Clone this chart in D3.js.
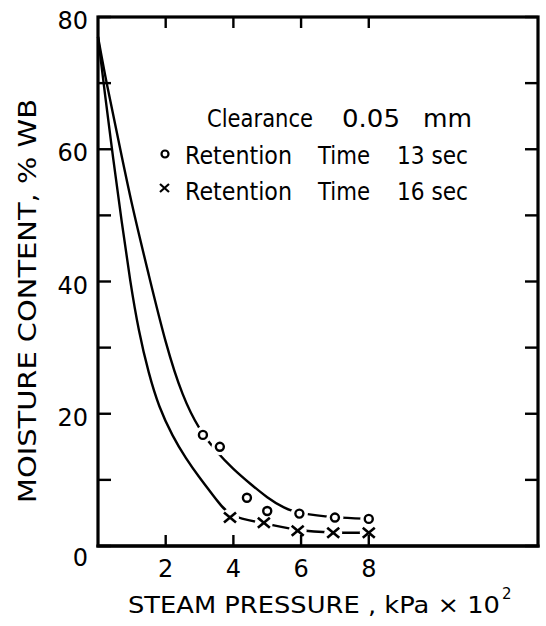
<!DOCTYPE html>
<html>
<head>
<meta charset="utf-8">
<script src="https://cdn.jsdelivr.net/npm/d3@7"></script>
<style>
  html, body { margin: 0; padding: 0; background: #fff; }
  svg { display: block; }
  text { font-family: "DejaVu Sans", "Liberation Sans", sans-serif; fill: #000; }
</style>
</head>
<body>
<svg id="chart" width="546" height="626"></svg>
<script>
// ---------- data ----------
const xTicks = [2, 4, 6, 8];
const yTicks = [0, 10, 20, 30, 40, 50, 60, 70, 80];
const yTickLabels = [0, 20, 40, 60, 80];

// measured points, retention time 13 sec (circles)
const pts13x = [3.1, 3.6, 4.4, 5.0, 5.95, 7.0, 8.0];
const pts13y = [16.8, 15.0, 7.3, 5.3, 4.9, 4.3, 4.1];
// measured points, retention time 16 sec (crosses)
const pts16x = [3.9, 4.9, 5.9, 6.95, 8.0];
const pts16y = [4.3, 3.5, 2.3, 2.0, 2.0];

// fitted curve, 13 sec
const curve13x = [0, 0.25, 0.6, 1.0, 1.5, 2.0, 2.5, 3.0, 3.5, 4.0, 4.5, 5.0, 5.5, 5.95, 7.0, 8.0];
const curve13y = [77, 70, 61.5, 51.5, 41, 30.5, 22.5, 17.5, 14.2, 11.6, 9.4, 7.3, 5.7, 4.9, 4.3, 4.1];
// fitted curve, 16 sec
const curve16x = [0, 0.2, 0.45, 0.7, 0.95, 1.2, 1.5, 1.8, 2.2, 2.6, 3.0, 3.5, 3.9, 4.9, 5.9, 6.95, 8.0];
const curve16y = [77, 68.5, 58.5, 49, 40, 32.5, 26, 21, 16.6, 13.2, 10.3, 7.0, 4.3, 3.5, 2.3, 2.0, 2.0];

const legendTitle = ["Clearance", "0.05", "mm"];
const legend13 = ["Retention", "Time", "13 sec"];
const legend16 = ["Retention", "Time", "16 sec"];
const xTitle = "STEAM  PRESSURE , kPa × 10";
const xTitleSup = "2";
const yTitle = "MOISTURE  CONTENT,  % WB";

// ---------- layout ----------
const svg = d3.select("#chart");
const L = 98, T = 17, R = 538, B = 546;
const x = d3.scaleLinear().domain([0, 13]).range([L, R]);
const y = d3.scaleLinear().domain([0, 80]).range([B, T]);

const g = svg.append("g");

// frame
g.append("rect").attr("x", L).attr("y", T).attr("width", R - L).attr("height", B - T)
  .attr("fill", "none").attr("stroke", "#000").attr("stroke-width", 3.2);

// ticks
const tickLen = 11;
g.selectAll(".xt").data(xTicks).enter().append("line")
  .attr("x1", d => x(d)).attr("x2", d => x(d)).attr("y1", T).attr("y2", T + tickLen)
  .attr("stroke", "#000").attr("stroke-width", 2.4);
g.selectAll(".yl").data(yTicks).enter().append("line")
  .attr("x1", L).attr("x2", L + 13).attr("y1", d => y(d)).attr("y2", d => y(d))
  .attr("stroke", "#000").attr("stroke-width", 2.4);
g.selectAll(".yr").data(yTicks).enter().append("line")
  .attr("x1", R).attr("x2", R - 13).attr("y1", d => y(d)).attr("y2", d => y(d))
  .attr("stroke", "#000").attr("stroke-width", 2.4);

// tick labels
g.selectAll(".xlab").data(xTicks).enter().append("text")
  .attr("x", d => x(d)).attr("y", B + 31).attr("text-anchor", "middle")
  .attr("font-size", 24).text(d => d);
g.selectAll(".ylab").data(yTickLabels).enter().append("text")
  .attr("x", L - 10).attr("y", d => y(d) + (d === 0 ? 20 : 12)).attr("text-anchor", "end")
  .attr("font-size", 24).text(d => d);

// axis titles
g.append("text").attr("x", 128).attr("y", 613).attr("font-size", 23)
  .attr("textLength", 372).attr("lengthAdjust", "spacingAndGlyphs").text(xTitle);
g.append("text").attr("x", 502).attr("y", 599).attr("font-size", 15).text(xTitleSup);
g.append("text").attr("transform", "translate(36,301) rotate(-90)")
  .attr("text-anchor", "middle").attr("font-size", 25)
  .attr("textLength", 404).attr("lengthAdjust", "spacingAndGlyphs").text(yTitle);

// curves
const line = d3.line().x(d => x(d[0])).y(d => y(d[1])).curve(d3.curveBasis);
const c13 = curve13x.map((v, i) => [v, curve13y[i]]);
const c16 = curve16x.map((v, i) => [v, curve16y[i]]);
g.append("path").attr("d", line(c13)).attr("fill", "none").attr("stroke", "#000").attr("stroke-width", 2.4);
g.append("path").attr("d", line(c16)).attr("fill", "none").attr("stroke", "#000").attr("stroke-width", 2.4);

// marker halos (create gaps in the line)
const p13 = pts13x.map((v, i) => [v, pts13y[i]]);
const p16 = pts16x.map((v, i) => [v, pts16y[i]]);
g.selectAll(".h13").data(p13).enter().append("circle")
  .attr("cx", d => x(d[0])).attr("cy", d => y(d[1])).attr("r", 8.5).attr("fill", "#fff");
g.selectAll(".h16").data(p16).enter().append("circle")
  .attr("cx", d => x(d[0])).attr("cy", d => y(d[1])).attr("r", 9).attr("fill", "#fff");

// circles
g.selectAll(".m13").data(p13).enter().append("circle")
  .attr("cx", d => x(d[0])).attr("cy", d => y(d[1])).attr("r", 4)
  .attr("fill", "#fff").attr("stroke", "#000").attr("stroke-width", 2.4);
// crosses
const cs = 6;
const crossG = g.selectAll(".m16").data(p16).enter().append("g")
  .attr("transform", d => `translate(${x(d[0])},${y(d[1])})`);
crossG.append("line").attr("x1", -cs).attr("y1", -cs + 1).attr("x2", cs).attr("y2", cs - 1)
  .attr("stroke", "#000").attr("stroke-width", 2.6);
crossG.append("line").attr("x1", -cs).attr("y1", cs - 1).attr("x2", cs).attr("y2", -cs + 1)
  .attr("stroke", "#000").attr("stroke-width", 2.6);

// bottom axis drawn over halos
g.append("line").attr("x1", L - 1.6).attr("x2", R + 1.6).attr("y1", B).attr("y2", B)
  .attr("stroke", "#000").attr("stroke-width", 3.2);
g.selectAll(".xb").data(xTicks).enter().append("line")
  .attr("x1", d => x(d)).attr("x2", d => x(d)).attr("y1", B).attr("y2", B - tickLen)
  .attr("stroke", "#000").attr("stroke-width", 2.4);

// legend
const leg = g.append("g");
const legX = [185, 318, 397];
const legW = [107, 52, 71];
leg.append("text").attr("x", 207).attr("y", 127).attr("font-size", 24)
  .attr("textLength", 106).attr("lengthAdjust", "spacingAndGlyphs").text(legendTitle[0]);
leg.append("text").attr("x", 342).attr("y", 127).attr("font-size", 24)
  .attr("textLength", 58).attr("lengthAdjust", "spacingAndGlyphs").text(legendTitle[1]);
leg.append("text").attr("x", 423).attr("y", 127).attr("font-size", 24)
  .attr("textLength", 49).attr("lengthAdjust", "spacingAndGlyphs").text(legendTitle[2]);
[legend13, legend16].forEach((row, r) => {
  row.forEach((t, i) => {
    leg.append("text").attr("x", legX[i]).attr("y", r === 0 ? 164 : 200).attr("font-size", 24)
      .attr("textLength", legW[i]).attr("lengthAdjust", "spacingAndGlyphs").text(t);
  });
});
leg.append("circle").attr("cx", 165).attr("cy", 154).attr("r", 3.5)
  .attr("fill", "#fff").attr("stroke", "#000").attr("stroke-width", 2.2);
leg.append("line").attr("x1", 160).attr("y1", 184).attr("x2", 169).attr("y2", 192)
  .attr("stroke", "#000").attr("stroke-width", 2.2);
leg.append("line").attr("x1", 160).attr("y1", 192).attr("x2", 169).attr("y2", 184)
  .attr("stroke", "#000").attr("stroke-width", 2.2);
</script>
</body>
</html>
